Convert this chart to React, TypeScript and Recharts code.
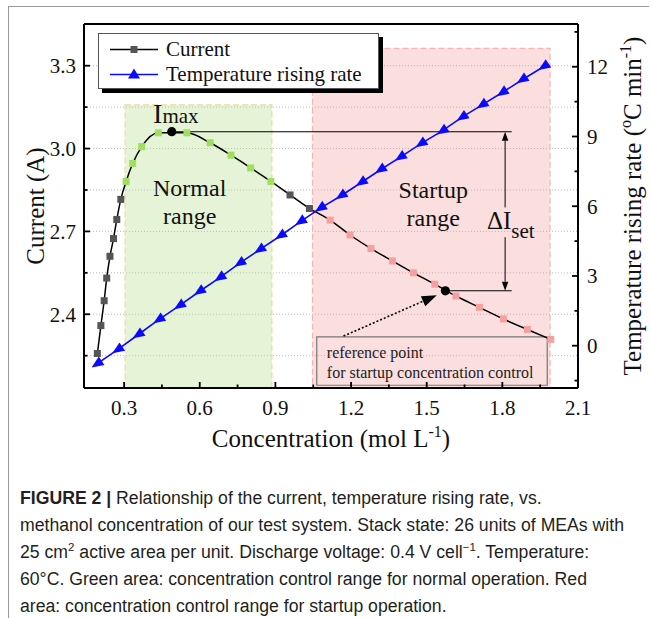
import {
  CartesianGrid,
  Legend,
  Line,
  LineChart,
  ReferenceArea,
  ReferenceDot,
  ReferenceLine,
  XAxis,
  YAxis,
} from "recharts";

// concentration (mol/L) where the current was measured
const CONC_I = [
  0.194, 0.208, 0.221, 0.231, 0.244, 0.258, 0.271, 0.287, 0.308, 0.334, 0.37,
  0.436, 0.549, 0.641, 0.724, 0.802, 0.882, 0.958, 1.035, 1.117, 1.196, 1.279,
  1.364, 1.447, 1.532, 1.616, 1.709, 1.804, 1.899, 1.992,
];
const CURRENT = [
  2.258, 2.359, 2.449, 2.531, 2.61, 2.674, 2.743, 2.816, 2.881, 2.946, 3.007,
  3.057, 3.057, 3.021, 2.976, 2.93, 2.881, 2.832, 2.783, 2.741, 2.687, 2.638,
  2.593, 2.55, 2.509, 2.466, 2.425, 2.383, 2.345, 2.309,
];

// concentration where the temperature rising rate was measured
const CONC_T = [
  0.191, 0.273, 0.354, 0.436, 0.518, 0.597, 0.678, 0.757, 0.836, 0.919, 0.998,
  1.077, 1.159, 1.239, 1.315, 1.394, 1.476, 1.56, 1.639, 1.718, 1.798, 1.877,
  1.963,
];
const TEMP_RATE = [
  -0.79, -0.18, 0.46, 1.11, 1.71, 2.32, 2.92, 3.54, 4.12, 4.72, 5.33, 5.91,
  6.44, 7.01, 7.56, 8.1, 8.68, 9.23, 9.82, 10.35, 10.88, 11.43, 12.0,
];

const X_TICKS = [
  0.3, 0.45, 0.6, 0.75, 0.9, 1.05, 1.2, 1.35, 1.5, 1.65, 1.8, 1.95, 2.1,
];
const I_TICKS = [2.25, 2.4, 2.55, 2.7, 2.85, 3.0, 3.15, 3.3];
const T_TICKS = [-1.5, 0, 1.5, 3, 4.5, 6, 7.5, 9, 10.5, 12, 13.5];

const X_DOMAIN = [0.141, 2.1];
const I_DOMAIN = [2.133, 3.451];
const T_DOMAIN = [-1.82, 13.84];

// shaded concentration windows
const NORMAL_RANGE = [0.304, 0.886];
const NORMAL_TOP = 3.158;
const STARTUP_RANGE = [1.047, 1.989];
const STARTUP_TOP = 3.363;

const IMAX = { x: 0.489, y: 3.061 };
const REF_POINT = { x: 1.574, y: 2.485 };
const BRACKET_END = 1.837;
const DELTA_X = 1.811;

const currentData = CONC_I.map((x, i) => ({ x, y: CURRENT[i] }));
const tempData = CONC_T.map((x, i) => ({ x, y: TEMP_RATE[i] }));

const SERIF = '"Liberation Serif", "Times New Roman", serif';
const SANS = '"Liberation Sans", Arial, sans-serif';
const BLUE = "#0a0aff";

const onStep = (v: number, step: number) =>
  Math.abs(v / step - Math.round(v / step)) < 1e-6;

function squareColor(x: number) {
  if (x >= NORMAL_RANGE[0] && x <= NORMAL_RANGE[1]) return "#9fde5f";
  if (x >= STARTUP_RANGE[0] && x <= STARTUP_RANGE[1] + 0.01) return "#f5a0a0";
  return "#555";
}

function SquareDot(props: any) {
  const { cx, cy, payload, index } = props;
  return (
    <rect
      key={`sq-${index}`}
      x={cx - 3.5}
      y={cy - 3.5}
      width={7}
      height={7}
      fill={squareColor(payload.x)}
    />
  );
}

/* the triangles sit along the line like arrowheads pointing back down-left */
function TriDot(props: any) {
  const { cx, cy, index } = props;
  return (
    <polygon
      key={`tri-${index}`}
      points="-6,0 6,-5 6,5"
      transform={`translate(${cx},${cy}) rotate(-33.7)`}
      fill={BLUE}
    />
  );
}

function Arrow(props: any) {
  const { x1, y1, x2, y2, len = 9, half = 3.5, dash, width = 1.2 } = props;
  const a = Math.atan2(y2 - y1, x2 - x1);
  const bx = x2 - len * Math.cos(a);
  const by = y2 - len * Math.sin(a);
  const px = -Math.sin(a) * half;
  const py = Math.cos(a) * half;
  return (
    <g>
      <line
        x1={x1}
        y1={y1}
        x2={bx}
        y2={by}
        stroke="#000"
        strokeWidth={width}
        strokeDasharray={dash}
      />
      <polygon
        points={`${x2},${y2} ${bx + px},${by + py} ${bx - px},${by - py}`}
        fill="#000"
      />
    </g>
  );
}

function XTick({ x, y, payload }: any) {
  const v = payload.value as number;
  const major = onStep(v, 0.3);
  return (
    <g>
      <line x1={x} x2={x} y1={y} y2={y - (major ? 6 : 3.5)} stroke="#000" strokeWidth={1.8} />
      {major && (
        <text x={x} y={y + 27} textAnchor="middle" fontFamily={SERIF} fontSize={21} fill="#111">
          {v.toFixed(1)}
        </text>
      )}
    </g>
  );
}

function LeftTick({ x, y, payload }: any) {
  const v = payload.value as number;
  const major = onStep(v, 0.3);
  return (
    <g>
      <line x1={x} x2={x + (major ? 6 : 3.5)} y1={y} y2={y} stroke="#000" strokeWidth={1.8} />
      {major && (
        <text x={x - 8} y={y + 7.5} textAnchor="end" fontFamily={SERIF} fontSize={21} fill="#111">
          {v.toFixed(1)}
        </text>
      )}
    </g>
  );
}

function RightTick({ x, y, payload }: any) {
  const v = payload.value as number;
  const major = onStep(v, 3);
  return (
    <g>
      <line x1={x} x2={x - (major ? 6 : 3.5)} y1={y} y2={y} stroke="#000" strokeWidth={1.8} />
      {major && (
        <text x={x + 9} y={y + 7.5} textAnchor="start" fontFamily={SERIF} fontSize={21} fill="#111">
          {String(v)}
        </text>
      )}
    </g>
  );
}

function LegendBox() {
  const row = { display: "flex", alignItems: "center", height: 25 };
  return (
    <div
      style={{
        width: 281,
        height: 56,
        boxSizing: "border-box",
        border: "1px solid #555",
        background: "#fff",
        boxShadow: "4px 4px 0 #000",
        paddingTop: 3,
        fontFamily: SERIF,
        fontSize: 21,
        color: "#111",
      }}
    >
      <div style={row}>
        <svg width={67} height={25}>
          <line x1={11} x2={59} y1={12.5} y2={12.5} stroke="#000" strokeWidth={1.5} />
          <rect x={31.5} y={9} width={7} height={7} fill="#555" />
        </svg>
        <span>Current</span>
      </div>
      <div style={row}>
        <svg width={67} height={25}>
          <line x1={11} x2={59} y1={12.5} y2={12.5} stroke={BLUE} strokeWidth={1.5} />
          <polygon points="35,6.5 41,16.5 29,16.5" fill={BLUE} />
        </svg>
        <span>Temperature rising rate</span>
      </div>
    </div>
  );
}

export default function App() {
  return (
    <div style={{ position: "relative", width: 651, height: 618, overflow: "hidden", background: "#fff" }}>
      <style>{"body{margin:0}"}</style>
      <div
        style={{
          position: "absolute",
          left: 8,
          top: 6,
          width: 640,
          height: 620,
          borderTop: "1px solid #999",
          borderLeft: "1px solid #999",
        }}
      />
      <div style={{ position: "absolute", left: 0, top: 0 }}>
        <LineChart width={651} height={460} margin={{ top: 24, right: 0, bottom: 0, left: 0 }}>
          <CartesianGrid yAxisId="left" vertical={false} stroke="#bdbdbd" strokeDasharray="1 2" />
          <XAxis
            dataKey="x"
            type="number"
            domain={X_DOMAIN}
            allowDataOverflow
            ticks={X_TICKS}
            interval={0}
            tickSize={0}
            tickMargin={0}
            tick={XTick}
            height={72}
            axisLine={{ stroke: "#000", strokeWidth: 2 }}
            label={(p: any) => {
              const vb = p.viewBox;
              return (
                <text
                  x={vb.x + vb.width / 2}
                  y={vb.y + 59}
                  textAnchor="middle"
                  fontFamily={SERIF}
                  fontSize={25}
                  fill="#111"
                >
                  Concentration (mol L
                  <tspan fontSize={16} dy={-10}>-1</tspan>
                  <tspan dy={10}>)</tspan>
                </text>
              );
            }}
          />
          <YAxis
            yAxisId="left"
            type="number"
            domain={I_DOMAIN}
            allowDataOverflow
            ticks={I_TICKS}
            interval={0}
            tickSize={0}
            tickMargin={0}
            tick={LeftTick}
            width={84}
            axisLine={{ stroke: "#000", strokeWidth: 2 }}
            label={(p: any) => {
              const vb = p.viewBox;
              const cx = vb.x + 44;
              const cy = vb.y + vb.height / 2;
              return (
                <text
                  x={cx}
                  y={cy}
                  transform={`rotate(-90 ${cx} ${cy})`}
                  textAnchor="middle"
                  fontFamily={SERIF}
                  fontSize={25}
                  fill="#111"
                >
                  Current (A)
                </text>
              );
            }}
          />
          <YAxis
            yAxisId="right"
            orientation="right"
            type="number"
            domain={T_DOMAIN}
            allowDataOverflow
            ticks={T_TICKS}
            interval={0}
            tickSize={0}
            tickMargin={0}
            tick={RightTick}
            width={73}
            axisLine={{ stroke: "#000", strokeWidth: 2 }}
            label={(p: any) => {
              const vb = p.viewBox;
              const cx = vb.x + 63;
              const cy = vb.y + vb.height / 2;
              return (
                <text
                  x={cx}
                  y={cy}
                  transform={`rotate(-90 ${cx} ${cy})`}
                  textAnchor="middle"
                  fontFamily={SERIF}
                  fontSize={25}
                  fill="#111"
                >
                  Temperature rising rate (
                  <tspan fontSize={16} dy={-10}>o</tspan>
                  <tspan dy={10}>C min</tspan>
                  <tspan fontSize={16} dy={-10}>-1</tspan>
                  <tspan dy={10}>)</tspan>
                </text>
              );
            }}
          />

          <ReferenceArea
            yAxisId="left"
            x1={NORMAL_RANGE[0]}
            x2={NORMAL_RANGE[1]}
            y1={I_DOMAIN[0]}
            y2={NORMAL_TOP}
            fill="#a8dc78"
            fillOpacity={0.3}
            stroke="#f2d79c"
            strokeDasharray="6 3"
            strokeWidth={1.2}
          />
          <ReferenceArea
            yAxisId="left"
            x1={STARTUP_RANGE[0]}
            x2={STARTUP_RANGE[1]}
            y1={I_DOMAIN[0]}
            y2={STARTUP_TOP}
            fill="#f08080"
            fillOpacity={0.25}
            stroke="#f6b4b4"
            strokeDasharray="6 3"
            strokeWidth={1.2}
          />
          {/* top frame of the plot */}
          <ReferenceLine yAxisId="left" y={I_DOMAIN[1]} stroke="#000" strokeWidth={2} ifOverflow="visible" />

          <Line
            data={currentData}
            dataKey="y"
            yAxisId="left"
            type="monotone"
            stroke="#000"
            strokeWidth={1.5}
            dot={SquareDot}
            activeDot={false}
            isAnimationActive={false}
          />
          <Line
            data={tempData}
            dataKey="y"
            yAxisId="right"
            type="linear"
            stroke={BLUE}
            strokeWidth={1.6}
            dot={TriDot}
            activeDot={false}
            isAnimationActive={false}
          />

          {/* I_max and ΔI_set bracket */}
          <ReferenceLine
            yAxisId="left"
            segment={[IMAX, { x: BRACKET_END, y: IMAX.y }]}
            stroke="#000"
            strokeWidth={1.1}
          />
          <ReferenceLine
            yAxisId="left"
            segment={[REF_POINT, { x: BRACKET_END, y: REF_POINT.y }]}
            stroke="#000"
            strokeWidth={1.1}
          />
          <ReferenceLine
            yAxisId="left"
            segment={[{ x: DELTA_X, y: 2.787 }, { x: DELTA_X, y: IMAX.y }]}
            shape={(p: any) => <Arrow {...p} len={9} half={3.2} width={1} />}
          />
          <ReferenceLine
            yAxisId="left"
            segment={[{ x: DELTA_X, y: 2.679 }, { x: DELTA_X, y: REF_POINT.y }]}
            shape={(p: any) => <Arrow {...p} len={9} half={3.2} width={1} />}
          />
          <ReferenceLine
            yAxisId="left"
            segment={[{ x: 1.17, y: 2.321 }, { x: 1.54, y: 2.469 }]}
            shape={(p: any) => <Arrow {...p} len={15} half={5.5} width={1.6} dash="2 2" />}
          />
          <ReferenceDot yAxisId="left" x={IMAX.x} y={IMAX.y} r={4.6} fill="#000" stroke="none" />
          <ReferenceDot yAxisId="left" x={REF_POINT.x} y={REF_POINT.y} r={4.6} fill="#000" stroke="none" />

          <ReferenceArea
            yAxisId="left"
            x1={1.064}
            x2={1.978}
            y1={2.143}
            y2={2.318}
            fill="none"
            fillOpacity={0}
            stroke="#777"
            strokeWidth={1.2}
          />

          {/* text annotations */}
          <ReferenceDot
            yAxisId="left"
            x={0.505}
            y={3.093}
            r={1}
            shape={(p: any) => (
              <text x={p.cx} y={p.cy} textAnchor="middle" fontFamily={SERIF} fill="#111">
                <tspan fontSize={28}>I</tspan>
                <tspan fontSize={21}>max</tspan>
              </text>
            )}
          />
          <ReferenceDot
            yAxisId="left"
            x={0.56}
            y={2.827}
            r={1}
            shape={(p: any) => (
              <text textAnchor="middle" fontFamily={SERIF} fontSize={24} fill="#111">
                <tspan x={p.cx} y={p.cy}>Normal</tspan>
                <tspan x={p.cx} y={p.cy + 28}>range</tspan>
              </text>
            )}
          />
          <ReferenceDot
            yAxisId="left"
            x={1.526}
            y={2.821}
            r={1}
            shape={(p: any) => (
              <text textAnchor="middle" fontFamily={SERIF} fontSize={24} fill="#111">
                <tspan x={p.cx} y={p.cy}>Startup</tspan>
                <tspan x={p.cx} y={p.cy + 28}>range</tspan>
              </text>
            )}
          />
          <ReferenceDot
            yAxisId="left"
            x={1.739}
            y={2.708}
            r={1}
            shape={(p: any) => (
              <text x={p.cx} y={p.cy} fontFamily={SERIF} fontSize={25} fill="#111">
                ΔI
                <tspan fontSize={21} dy={9}>set</tspan>
              </text>
            )}
          />
          <ReferenceDot
            yAxisId="left"
            x={1.104}
            y={2.24}
            r={1}
            shape={(p: any) => (
              <text fontFamily={SERIF} fontSize={16} fill="#222">
                <tspan x={p.cx} y={p.cy}>reference point</tspan>
                <tspan x={p.cx} y={p.cy + 20}>for startup concentration control</tspan>
              </text>
            )}
          />

          <Legend
            layout="horizontal"
            verticalAlign="middle"
            align="center"
            content={() => <LegendBox />}
            wrapperStyle={{ left: 98, top: 33, width: 281, height: 56 }}
          />
        </LineChart>
      </div>

      <div
        style={{
          position: "absolute",
          left: 20,
          top: 485,
          width: 700,
          fontFamily: SANS,
          fontSize: 18,
          lineHeight: "27px",
          color: "#231f20",
          transform: "scaleX(0.98)",
          transformOrigin: "left top",
          whiteSpace: "nowrap",
        }}
      >
        <div>
          <b>FIGURE 2 |</b> Relationship of the current, temperature rising rate, vs.
        </div>
        <div>methanol concentration of our test system. Stack state: 26 units of MEAs with</div>
        <div>
          25 cm<sup style={{ fontSize: "0.65em", lineHeight: 0 }}>2</sup> active area per unit.
          Discharge voltage: 0.4 V cell<sup style={{ fontSize: "0.65em", lineHeight: 0 }}>−1</sup>.
          Temperature:
        </div>
        <div>60°C. Green area: concentration control range for normal operation. Red</div>
        <div>area: concentration control range for startup operation.</div>
      </div>
    </div>
  );
}
